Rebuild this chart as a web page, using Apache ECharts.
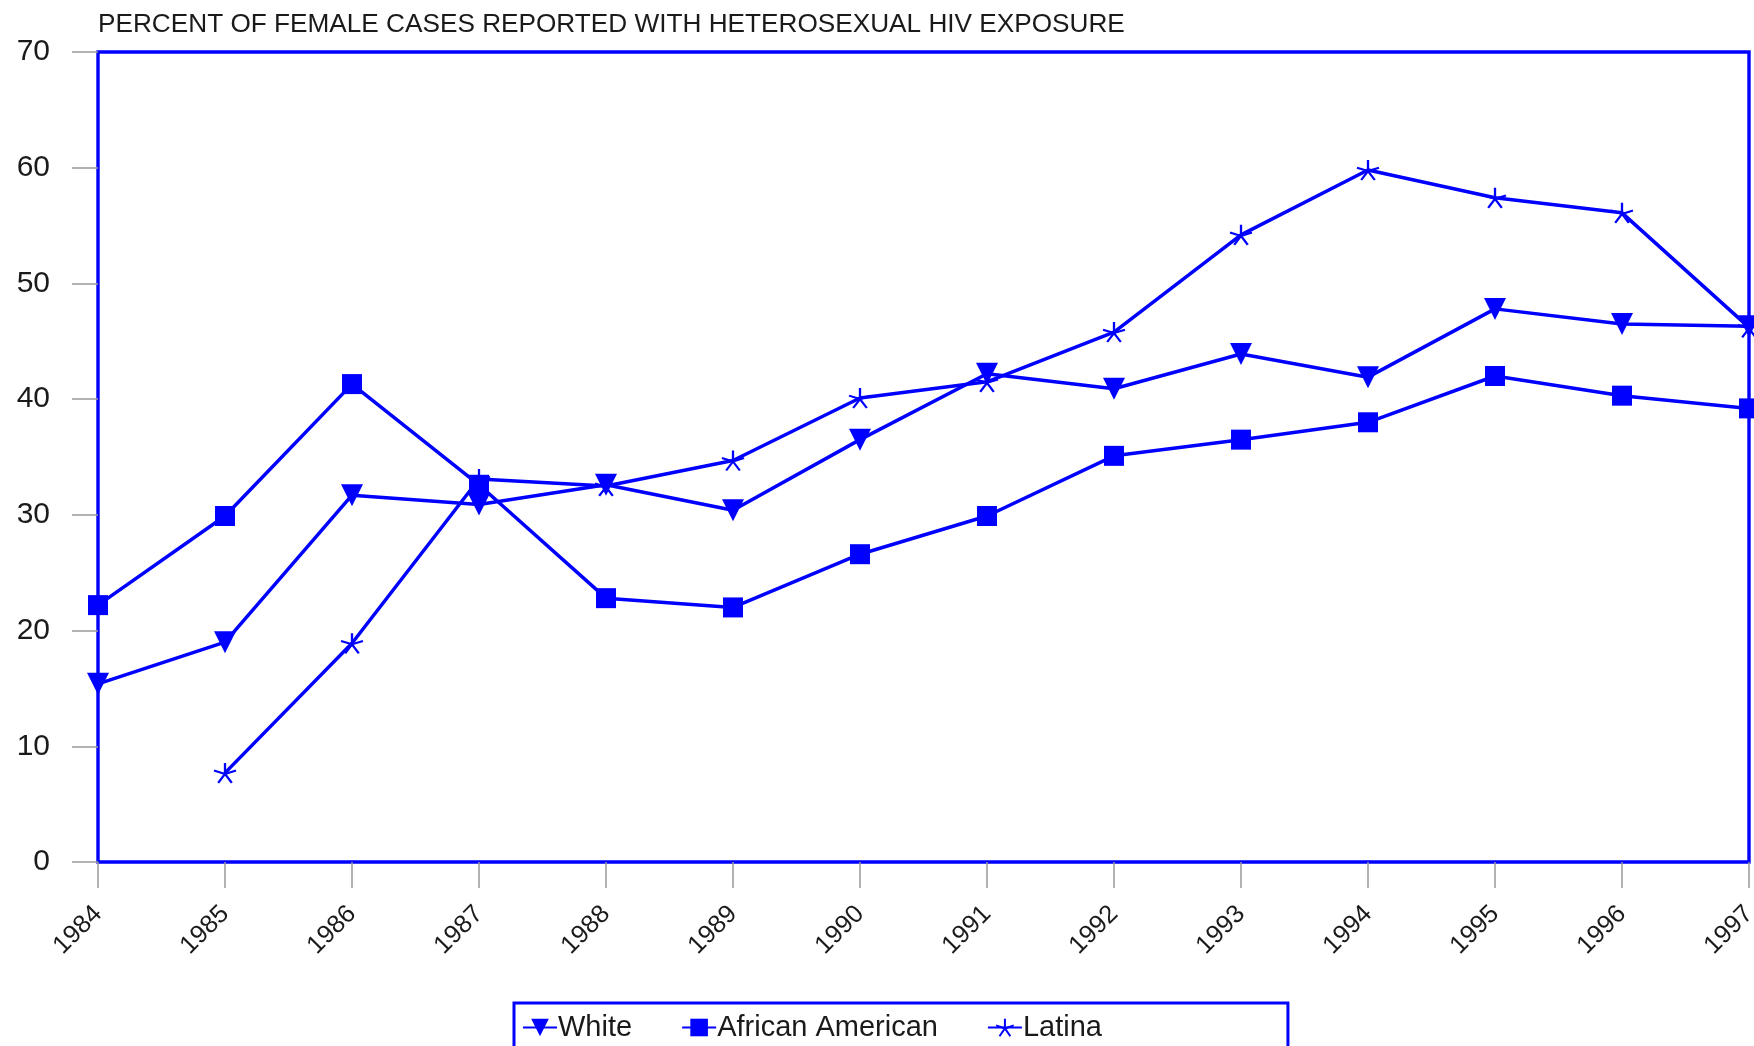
<!DOCTYPE html>
<html>
<head>
<meta charset="utf-8">
<script src="https://cdn.jsdelivr.net/npm/echarts@6/dist/echarts.min.js"></script>
<style>
  html, body { margin: 0; padding: 0; background: #fff; }
  #chart { width: 1754px; height: 1046px; }
</style>
</head>
<body>
<div id="chart"></div>
<script>
const years = ['1984', '1985', '1986', '1987', '1988', '1989', '1990', '1991', '1992', '1993', '1994', '1995', '1996', '1997']
const white = [15.4, 19.0, 31.7, 30.9, 32.6, 30.4, 36.5, 42.2, 40.9, 43.9, 41.9, 47.8, 46.5, 46.3]
const africanAmerican = [22.2, 29.9, 41.3, 32.6, 22.8, 22.0, 26.6, 29.9, 35.1, 36.5, 38.0, 42.0, 40.3, 39.2]
const latina = [null, 7.7, 18.9, 33.1, 32.5, 34.7, 40.1, 41.5, 45.8, 54.2, 59.8, 57.4, 56.1, 46.2]
const yTicks = [0, 10, 20, 30, 40, 50, 60, 70]

const BLUE = '#0000FF'
const FONT = 'Liberation Sans'
// five-armed asterisk like the original marker
const starPath = 'path://M10,10 L10,0 M10,10 L19.51,6.91 M10,10 L15.88,18.09 M10,10 L4.12,18.09 M10,10 L0.49,6.91'

const chart = echarts.init(document.getElementById('chart'))

const lineSeries = (name, data, symbol, size, extra) => Object.assign({
  name,
  type: 'line',
  data,
  symbol,
  symbolSize: size,
  connectNulls: false,
  lineStyle: { color: BLUE, width: 3.5 },
  itemStyle: { color: BLUE, borderColor: BLUE, borderWidth: 0 },
  emphasis: { disabled: true },
  z: 3
}, extra || {})

chart.setOption({
  animation: false,
  textStyle: { fontFamily: FONT },
  title: {
    text: 'PERCENT OF FEMALE CASES REPORTED WITH HETEROSEXUAL HIV EXPOSURE',
    left: 93,
    top: 7,
    textStyle: { fontFamily: FONT, fontSize: 26.2, fontWeight: 'normal', color: '#1a1a1a' }
  },
  grid: {
    left: 98, right: 5, top: 52, bottom: 184,
    outerBoundsMode: 'none',
    show: true,
    borderColor: BLUE,
    borderWidth: 3.4,
    backgroundColor: 'transparent'
  },
  legend: {
    left: 514,
    top: 1003,
    orient: 'horizontal',
    padding: [10, 186, 30, 8],
    itemGap: 49,
    itemWidth: 34,
    itemHeight: 22,
    borderColor: BLUE,
    borderWidth: 3,
    borderRadius: 0,
    textStyle: { fontFamily: FONT, fontSize: 29, color: '#1a1a1a', padding: [0, 0, 0, -4] },
    data: ['White', 'African American', 'Latina']
  },
  xAxis: {
    type: 'category',
    data: years,
    boundaryGap: false,
    axisLine: { show: false },
    axisTick: { show: true, length: 26, alignWithLabel: true, lineStyle: { color: '#999', width: 1.5 } },
    axisLabel: { rotate: 45, margin: 48, fontFamily: FONT, fontSize: 25.5, color: '#1a1a1a', interval: 0 },
    splitLine: { show: false }
  },
  yAxis: {
    type: 'value',
    min: yTicks[0],
    max: yTicks[yTicks.length - 1],
    interval: 10,
    axisLine: { show: false },
    axisTick: { show: true, length: 26, lineStyle: { color: '#999', width: 1.5 } },
    axisLabel: { margin: 48, fontFamily: FONT, fontSize: 30, color: '#1a1a1a' },
    splitLine: { show: false }
  },
  series: [
    lineSeries('White', white, 'triangle', 22, { symbolRotate: 180 }),
    lineSeries('African American', africanAmerican, 'rect', 20),
    lineSeries('Latina', latina, starPath, [22, 20], {
      itemStyle: { color: 'transparent', borderColor: BLUE, borderWidth: 2.2 }
    })
  ]
})
</script>
</body>
</html>
